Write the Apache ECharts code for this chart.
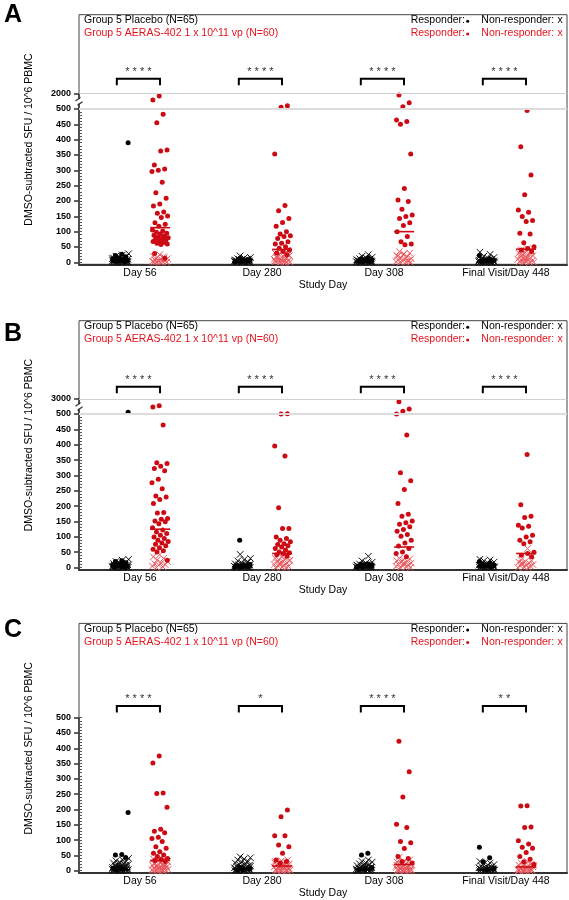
<!DOCTYPE html>
<html><head><meta charset="utf-8">
<script src="https://cdn.jsdelivr.net/npm/echarts@6/dist/echarts.min.js"></script>
<style>html,body{margin:0;padding:0;background:#fff}#c{width:569px;height:900px}</style>
</head><body><div id="c"></div>
<script>
// ---------------- DATA ----------------
const days = ['Day 56', 'Day 280', 'Day 308', 'Final Visit/Day 448'];
const yMajorTicks = [0, 50, 100, 150, 200, 250, 300, 350, 400, 450, 500];
const yMinorTicks = [0,10,20,30,40,50,60,70,80,90,100,110,120,130,140,150,160,170,180,190,200,210,220,230,240,250,260,270,280,290,300,310,320,330,340,350,360,370,380,390,400,410,420,430,440,450,460,470,480,490,500];
const upperTickA = [2000];
const upperTickB = [3000];

// Panel A (per day: Day 56, Day 280, Day 308, Final)
const A_pbo_resp = [
  [390, 26, 22, 18, 15, 12, 10, 8, 6, 5, 4, 3],
  [12, 8, 6, 5, 4, 3, 2],
  [15, 10, 8, 6, 5, 3, 2],
  [22, 12, 8, 6, 4, 3]
];
const A_pbo_non = [
  [28, 24, 20, 18, 15, 14, 12, 11, 10, 9, 8, 7, 6, 5, 5, 4, 4, 3, 3, 2, 2, 1, 1, 0, 0, 0, 0, 0, 1, 2, 3, 6, 8, 10, 12, 2, 0, 1, 4, 7],
  [21, 16, 14, 12, 10, 9, 8, 7, 6, 5, 5, 4, 4, 3, 3, 2, 2, 1, 1, 0, 0, 0, 0, 1, 2, 3, 4, 6, 8, 10, 0, 1, 2, 5, 7],
  [25, 20, 17, 15, 12, 10, 9, 8, 7, 6, 5, 4, 4, 3, 3, 2, 2, 1, 1, 0, 0, 0, 0, 1, 2, 3, 5, 6, 8, 11, 0, 1, 3, 4],
  [33, 26, 20, 16, 14, 12, 10, 8, 7, 6, 5, 4, 3, 3, 2, 2, 1, 1, 0, 0, 0, 0, 1, 2, 4, 6, 9, 0, 1, 3]
];
const A_vac_resp = [
  [1774, 1382, 483, 455, 366, 363, 317, 304, 300, 296, 261, 227, 209, 190, 184, 164, 160, 151, 146, 129, 124, 118, 105, 102, 98, 95, 92, 88, 85, 82, 80, 78, 75, 72, 70, 68, 65, 62, 60, 58, 29, 13],
  [820, 667, 353, 185, 168, 143, 130, 118, 100, 92, 87, 84, 78, 67, 62, 60, 51, 46, 40, 35, 30, 25],
  [1872, 1117, 725, 464, 459, 450, 353, 241, 203, 198, 173, 154, 149, 143, 129, 120, 100, 84, 67, 60, 57],
  [495, 377, 285, 220, 171, 163, 149, 136, 133, 95, 92, 64, 51, 45, 40, 35]
];
const A_vac_non = [
  [25, 20, 18, 15, 12, 10, 8, 6, 5, 3, 2, 1, 0, 0, 0, 14, 4],
  [40, 35, 30, 28, 25, 22, 20, 18, 15, 12, 10, 8, 6, 5, 3, 2, 1, 0, 0, 0, 14, 24, 9, 4],
  [35, 30, 25, 22, 18, 15, 12, 10, 8, 6, 4, 2, 0, 0, 0, 28, 20, 5],
  [45, 40, 35, 32, 30, 28, 25, 22, 20, 18, 15, 12, 10, 8, 6, 5, 3, 2, 0, 0, 0, 14, 26, 38, 9]
];
const A_pbo_median = [2, 1, 2, 2];
const A_vac_median = [113, 42, 100, 43];
const A_sig = ['****', '****', '****', '****'];

// Panel B
const B_pbo_resp = [
  [780, 22, 20, 16, 12, 10, 8, 6, 5, 4, 3, 2],
  [89, 10, 8, 6, 4, 3, 2],
  [12, 10, 8, 6, 5, 4, 3, 2],
  [20, 15, 10, 8, 6, 4, 3]
];
const B_pbo_non = [
  [27, 24, 20, 18, 15, 13, 12, 10, 9, 8, 7, 6, 5, 5, 4, 4, 3, 3, 2, 2, 1, 1, 0, 0, 0, 0, 0, 1, 2, 3, 6, 8, 11, 14, 2, 0, 4],
  [43, 30, 26, 22, 18, 15, 12, 10, 9, 8, 7, 6, 5, 4, 4, 3, 3, 2, 2, 1, 1, 0, 0, 0, 0, 1, 2, 3, 5, 7, 9, 12, 0, 2],
  [37, 22, 18, 15, 12, 10, 9, 8, 7, 6, 5, 4, 4, 3, 3, 2, 2, 1, 1, 0, 0, 0, 0, 1, 2, 3, 5, 6, 8, 10, 0, 1, 4],
  [27, 25, 22, 18, 15, 12, 10, 9, 8, 7, 6, 5, 4, 3, 3, 2, 2, 1, 1, 0, 0, 0, 0, 1, 2, 4, 6, 0, 3]
];
const B_vac_resp = [
  [1870, 1660, 464, 341, 339, 330, 323, 315, 288, 276, 257, 233, 230, 222, 209, 179, 178, 160, 157, 152, 149, 143, 130, 122, 116, 111, 105, 100, 95, 89, 85, 80, 76, 71, 65, 60, 55, 51, 24],
  [530, 520, 396, 363, 195, 127, 127, 100, 95, 89, 84, 78, 75, 71, 67, 62, 57, 51, 48, 46, 42, 38],
  [2560, 1337, 950, 510, 432, 309, 283, 254, 209, 174, 167, 152, 146, 141, 133, 124, 118, 108, 102, 89, 80, 70, 62, 51, 46, 35],
  [368, 205, 167, 163, 138, 135, 129, 105, 100, 89, 84, 78, 50, 46, 40, 35]
];
const B_vac_non = [
  [42, 35, 30, 25, 20, 15, 12, 10, 8, 5, 3, 0],
  [40, 35, 30, 28, 25, 22, 20, 18, 15, 12, 10, 8, 6, 4, 2, 0, 0, 14, 24],
  [30, 28, 25, 22, 20, 18, 15, 12, 10, 8, 6, 4, 2, 0, 0, 14],
  [62, 25, 22, 20, 18, 15, 12, 10, 8, 6, 4, 2, 0, 0, 14]
];
const B_pbo_median = [2, 2, 2, 2];
const B_vac_median = [125, 46, 67, 46];
const B_sig = ['****', '****', '****', '****'];

// Panel C
const C_pbo_resp = [
  [190, 53, 51, 43, 12, 8, 5, 3],
  [10, 6, 4, 2],
  [57, 51, 10, 6, 3],
  [76, 42, 29, 8, 4]
];
const C_pbo_non = [
  [40, 36, 32, 30, 27, 25, 22, 20, 18, 16, 15, 13, 12, 10, 9, 8, 7, 6, 5, 4, 4, 3, 3, 2, 2, 1, 1, 0, 0, 0, 0, 0, 1, 2, 5, 11, 14, 19, 24, 0],
  [45, 42, 38, 35, 30, 28, 25, 22, 20, 18, 16, 14, 12, 10, 9, 8, 7, 6, 5, 4, 4, 3, 3, 2, 2, 1, 1, 0, 0, 0, 0, 1, 2, 5, 11, 15, 21, 0],
  [35, 30, 28, 25, 22, 20, 18, 16, 14, 12, 10, 9, 8, 7, 6, 5, 4, 4, 3, 3, 2, 2, 1, 1, 0, 0, 0, 0, 1, 2, 5, 11, 15, 0],
  [30, 25, 22, 20, 18, 15, 12, 10, 9, 8, 7, 6, 5, 4, 3, 3, 2, 2, 1, 1, 0, 0, 0, 0, 1, 2, 5, 11, 0]
];
const C_vac_resp = [
  [375, 352, 254, 252, 207, 135, 129, 124, 109, 105, 95, 78, 73, 62, 57, 51, 46, 40, 36, 33, 30],
  [198, 176, 114, 114, 84, 78, 57, 35, 30, 25],
  [423, 323, 241, 152, 141, 95, 91, 72, 46, 40, 30, 25],
  [212, 211, 143, 141, 98, 87, 76, 73, 59, 46, 37, 29, 20]
];
const C_vac_non = [
  [40, 38, 35, 33, 30, 28, 25, 22, 20, 18, 16, 14, 12, 10, 8, 6, 5, 4, 3, 2, 1, 0, 0, 0, 0, 30, 26, 22, 15, 9, 3, 1],
  [35, 32, 30, 28, 25, 22, 20, 18, 16, 14, 12, 10, 8, 6, 5, 4, 3, 2, 1, 0, 0, 0, 0, 25, 18, 12, 7, 3, 1, 0],
  [45, 35, 30, 28, 25, 22, 20, 18, 16, 14, 12, 10, 8, 6, 5, 4, 3, 2, 1, 0, 0, 0, 0, 25, 18, 12, 7, 3, 1, 0],
  [30, 25, 22, 20, 18, 16, 14, 12, 10, 8, 6, 5, 4, 3, 2, 1, 0, 0, 0, 0, 18, 12, 7, 3, 1, 0]
];
const C_pbo_median = [3, 4, 3, 2];
const C_vac_median = [33, 15, 20, 12];
const C_sig = ['****', '*', '****', '**'];

// ---------------- LAYOUT / STYLE ----------------
const FONT = "'Liberation Sans', Arial, Helvetica, sans-serif";
const RED = '#cc0a14';
const RED_TXT = '#e3141e';
const PINK = '#e8575e';
const BLACK = '#000';
const GL = 79, GW = 488;
const PBO_OFF = -0.16, VAC_OFF = 0.165, SPREAD = 0.068;
const BR_L = -0.19, BR_R = 0.164;

const panels = [
  {letter: 'A', pr: A_pbo_resp, pn: A_pbo_non, vr: A_vac_resp, vn: A_vac_non, pm: A_pbo_median, vm: A_vac_median, sig: A_sig, upMax: 2000, upTicks: upperTickA,
   boxTop: 14.7, upTop: 93.7, lowTop: 109, axisY: 264.3, letterY: 15, brGap: 15},
  {letter: 'B', pr: B_pbo_resp, pn: B_pbo_non, vr: B_vac_resp, vn: B_vac_non, pm: B_pbo_median, vm: B_vac_median, sig: B_sig, upMax: 3000, upTicks: upperTickB,
   boxTop: 320.7, upTop: 399, lowTop: 414, axisY: 569.6, letterY: 334, brGap: 12.3},
  {letter: 'C', pr: C_pbo_resp, pn: C_pbo_non, vr: C_vac_resp, vn: C_vac_non, pm: C_pbo_median, vm: C_vac_median, sig: C_sig, upMax: null, upTicks: null,
   boxTop: 623.4, upTop: null, lowTop: 717.7, axisY: 873.3, letterY: 630, brGap: 11.7}
];

function jit(i, seed) {
  const f = ((i + 1) * 0.6180339887 + seed * 0.3713) % 1;
  return (f - 0.5) * 2 * SPREAD;
}

const grid = [], xAxis = [], yAxis = [], series = [], graphic = [];

panels.forEach((P, pi) => {
  const hasUp = P.upMax !== null;
  const gLow = grid.length;
  grid.push({left: GL, width: GW, top: P.lowTop, height: P.axisY - P.lowTop});
  const xLow = xAxis.length;
  xAxis.push({
    gridIndex: gLow, type: 'value', min: 0, max: 4,
    axisLine: {show: true, onZero: false, lineStyle: {color: '#333', width: 2}},
    axisTick: {show: false}, splitLine: {show: false},
    axisLabel: {customValues: [0.5, 1.5, 2.5, 3.5], formatter: v => days[Math.floor(v)], color: '#000', fontSize: 10.5, margin: 3.5, fontFamily: FONT},
    name: 'Study Day', nameLocation: 'middle', nameGap: 15,
    nameTextStyle: {color: '#000', fontSize: 10.5, fontFamily: FONT}
  });
  const yLow = yAxis.length;
  yAxis.push({
    gridIndex: gLow, type: 'value', min: -6.5, max: 500,
    axisLine: {show: true, onZero: false, lineStyle: {color: '#333', width: 1.5}},
    axisTick: {show: true, length: 5, customValues: yMajorTicks, lineStyle: {color: '#333', width: 1.5}},
    axisLabel: {customValues: yMajorTicks, formatter: v => String(v), fontSize: 9, fontWeight: 'bold', color: '#000', margin: 8, fontFamily: FONT},
    splitLine: {show: false}
  });
  yAxis.push({
    gridIndex: gLow, type: 'value', min: -6.5, max: 500,
    axisLine: {show: false},
    axisTick: {show: true, length: 3, customValues: yMinorTicks, lineStyle: {color: '#555', width: 1}},
    axisLabel: {show: false}, splitLine: {show: false}
  });

  let gUp = null, xUp = null, yUp = null;
  if (hasUp) {
    gUp = grid.length;
    grid.push({left: GL, width: GW, top: P.upTop, height: P.lowTop - P.upTop});
    xUp = xAxis.length;
    xAxis.push({gridIndex: gUp, type: 'value', min: 0, max: 4, show: false});
    yUp = yAxis.length;
    yAxis.push({
      gridIndex: gUp, type: 'value', min: 500, max: P.upMax,
      axisLine: {show: true, onZero: false, lineStyle: {color: '#333', width: 1.5}},
      axisTick: {show: true, length: 5, customValues: P.upTicks, lineStyle: {color: '#333', width: 1.5}},
      axisLabel: {customValues: P.upTicks, formatter: v => String(v), fontSize: 9, fontWeight: 'bold', color: '#000', margin: 8, fontFamily: FONT},
      splitLine: {show: false}
    });
  }

  function pts(arr, off, seed) {
    const low = [], up = [];
    arr.forEach((vals, d) => {
      vals.forEach((v, i) => {
        const p = [d + 0.5 + off + jit(i, seed + d), v];
        if (hasUp && v > 500) up.push(p); else low.push(p);
      });
    });
    return {low, up};
  }
  const xSym = 'path://M0,0L10,10M10,0L0,10';
  function addScatter(arr, off, seed, symbol, size, style) {
    const r = pts(arr, off, seed);
    series.push({type: 'scatter', xAxisIndex: xLow, yAxisIndex: yLow, data: r.low, symbol, symbolSize: size, itemStyle: style, silent: true, clip: false});
    if (hasUp && r.up.length) series.push({type: 'scatter', xAxisIndex: xUp, yAxisIndex: yUp, data: r.up, symbol, symbolSize: size, itemStyle: style, silent: true, clip: false});
  }
  addScatter(P.pn, PBO_OFF, 1, xSym, 6.5, {color: 'transparent', borderColor: '#111', borderWidth: 1, opacity: 1});
  addScatter(P.vn, VAC_OFF, 5, xSym, 6.5, {color: 'transparent', borderColor: PINK, borderWidth: 1, opacity: 1});
  addScatter(P.pr, PBO_OFF, 9, 'circle', 5, {color: BLACK, opacity: 1});
  addScatter(P.vr, VAC_OFF, 13, 'circle', 5, {color: RED, opacity: 1});
  series.push({type: 'scatter', xAxisIndex: xLow, yAxisIndex: yLow, silent: true, symbol: 'rect', symbolSize: [20, 1.6],
    data: P.pm.map((m, d) => [d + 0.5 + PBO_OFF, m]), itemStyle: {color: BLACK, opacity: 1}});
  series.push({type: 'scatter', xAxisIndex: xLow, yAxisIndex: yLow, silent: true, symbol: 'rect', symbolSize: [20, 1.6],
    data: P.vm.map((m, d) => [d + 0.5 + VAC_OFF, m]), itemStyle: {color: RED, opacity: 1}});

  if (hasUp) {
    series.push({type: 'line', xAxisIndex: xUp, yAxisIndex: yUp, data: [], silent: true,
      markLine: {silent: true, symbol: 'none', label: {show: false}, animation: false,
        data: [{yAxis: 500, lineStyle: {color: '#dcdcdc', width: 2, type: 'solid'}},
               {yAxis: P.upMax, lineStyle: {color: '#d0d0d0', width: 1, type: 'solid'}}]}});
  }

  const bx = hasUp ? xUp : xLow, by = hasUp ? yUp : yLow;
  const topVal = hasUp ? P.upMax : 500;
  series.push({
    type: 'custom', xAxisIndex: bx, yAxisIndex: by, silent: true, clip: false,
    data: P.sig.map((s, d) => [d, topVal]),
    renderItem: function (params, api) {
      const d = api.value(0);
      const pL = api.coord([d + 0.5 + BR_L, api.value(1)]);
      const pR = api.coord([d + 0.5 + BR_R, api.value(1)]);
      const y = pL[1] - P.brGap;
      return {type: 'group', children: [
        {type: 'polyline', shape: {points: [[pL[0], y + 6.5], [pL[0], y], [pR[0], y], [pR[0], y + 6.5]]},
         style: {stroke: '#000', lineWidth: 2, fill: null}},
        {type: 'text', style: {text: P.sig[d].split('').join(' '), x: (pL[0] + pR[0]) / 2, y: y - 1.5, align: 'center', verticalAlign: 'bottom',
          fill: '#333', font: '11px ' + FONT}}
      ]};
    }
  });

  graphic.push({type: 'rect', z: -1, shape: {x: GL, y: P.boxTop, width: GW, height: P.axisY - P.boxTop},
    style: {fill: 'none', stroke: '#444', lineWidth: 1}});
  graphic.push({type: 'text', x: 4, y: P.letterY, style: {text: P.letter, font: 'bold 25px ' + FONT, fill: '#000', verticalAlign: 'middle'}});
  graphic.push({type: 'text', x: 29, y: (P.boxTop + P.axisY) / 2, rotation: Math.PI / 2,
    style: {text: 'DMSO-subtracted SFU / 10^6 PBMC', font: '10.5px ' + FONT, fill: '#000', align: 'center', verticalAlign: 'middle'}});
  const l1 = P.boxTop + 5.8, l2 = P.boxTop + 18.4;
  const LF = '10.5px ' + FONT;
  graphic.push({type: 'text', x: 84, y: l1, style: {text: 'Group 5 Placebo (N=65)', font: LF, fill: '#000', verticalAlign: 'middle'}});
  graphic.push({type: 'text', x: 84, y: l2, style: {text: 'Group 5 AERAS-402 1 x 10^11 vp (N=60)', font: LF, fill: RED_TXT, verticalAlign: 'middle'}});
  graphic.push({type: 'text', x: 410.7, y: l1, style: {text: 'Responder:', font: LF, fill: '#000', verticalAlign: 'middle'}});
  graphic.push({type: 'circle', shape: {cx: 467.7, cy: l1 + 0.8, r: 1.5}, style: {fill: '#000'}});
  graphic.push({type: 'text', x: 481.3, y: l1, style: {text: 'Non-responder:', font: LF, fill: '#000', verticalAlign: 'middle'}});
  graphic.push({type: 'text', x: 557.5, y: l1, style: {text: 'x', font: LF, fill: '#000', verticalAlign: 'middle'}});
  graphic.push({type: 'text', x: 410.7, y: l2, style: {text: 'Responder:', font: LF, fill: RED_TXT, verticalAlign: 'middle'}});
  graphic.push({type: 'circle', shape: {cx: 467.7, cy: l2 + 0.8, r: 1.5}, style: {fill: RED}});
  graphic.push({type: 'text', x: 481.3, y: l2, style: {text: 'Non-responder:', font: LF, fill: RED_TXT, verticalAlign: 'middle'}});
  graphic.push({type: 'text', x: 557.5, y: l2, style: {text: 'x', font: LF, fill: RED_TXT, verticalAlign: 'middle'}});
  if (hasUp) {
    const cy = (P.upTop + P.lowTop) / 2;
    graphic.push({type: 'rect', z: 100, shape: {x: 74, y: cy - 2.2, width: 10, height: 4.4}, style: {fill: '#fff'}});
    graphic.push({type: 'line', z: 101, shape: {x1: 75.5, y1: cy - 0.3, x2: 80.5, y2: cy - 4}, style: {stroke: '#333', lineWidth: 1.2}});
    graphic.push({type: 'line', z: 101, shape: {x1: 77.5, y1: cy + 4, x2: 82.5, y2: cy + 0.3}, style: {stroke: '#333', lineWidth: 1.2}});
  }
});

const chart = echarts.init(document.getElementById('c'), null, {renderer: 'canvas'});
chart.setOption({
  animation: false,
  backgroundColor: '#fff',
  textStyle: {fontFamily: FONT},
  grid, xAxis, yAxis, series, graphic
});
</script>
</body></html>
